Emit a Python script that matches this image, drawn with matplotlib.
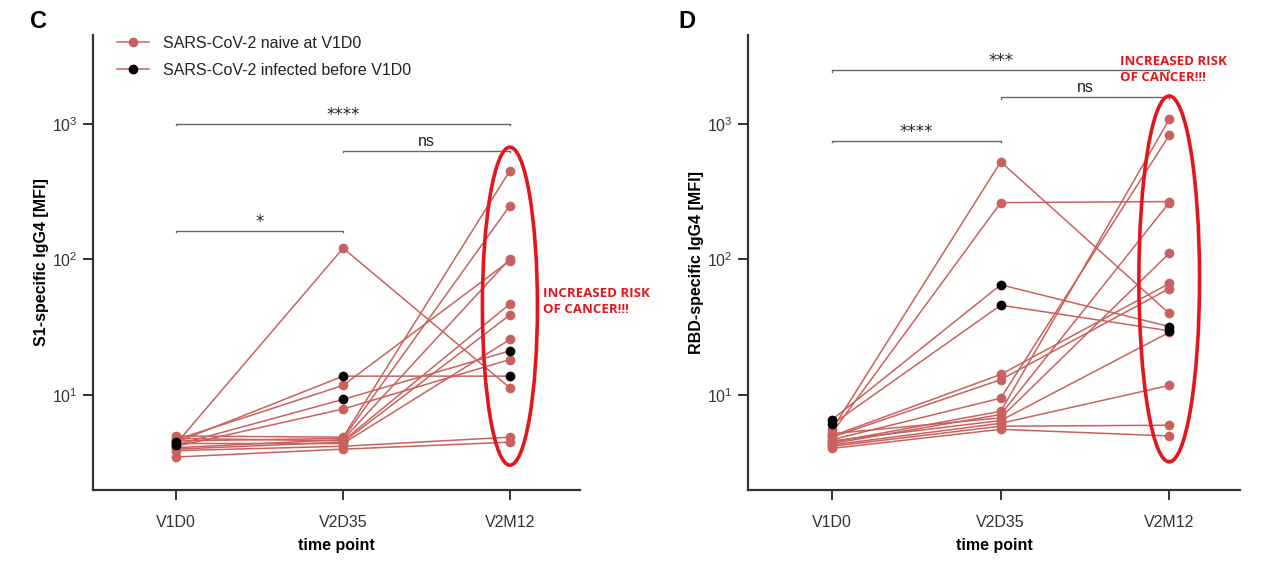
import matplotlib.pyplot as plt
import matplotlib.transforms as mtransforms
from matplotlib.patches import Ellipse
from matplotlib.lines import Line2D
from matplotlib.ticker import LogLocator, NullLocator

plt.rcParams['font.family'] = ['Liberation Sans', 'DejaVu Sans']

time_points = ["V1D0", "V2D35", "V2M12"]

# S1-specific IgG4 [MFI], one row per participant (V1D0, V2D35, V2M12)
s1_naive = [
    [4.4, 121, 11.3],
    [4.7, 11.8, 98],
    [4.2, 7.9, 18.3],
    [5.0, 4.9, 451],
    [4.6, 4.8, 249],
    [4.1, 4.7, 101],
    [4.8, 4.6, 47],
    [4.0, 4.5, 39],
    [4.4, 4.4, 25.7],
    [3.9, 4.2, 4.9],
    [3.5, 4.0, 4.5],
]
s1_infected = [
    [4.5, 13.8, 13.8],
    [4.3, 9.3, 21.2],
]

# RBD-specific IgG4 [MFI]
rbd_naive = [
    [5.6, 524, 40],
    [5.3, 262, 267],
    [5.0, 14.2, 66.5],
    [4.9, 13.0, 61],
    [4.7, 9.5, 822],
    [4.5, 7.6, 1075],
    [4.4, 7.2, 262],
    [5.2, 6.8, 111],
    [4.6, 6.5, 29],
    [4.3, 6.2, 11.8],
    [4.2, 5.9, 6.0],
    [4.05, 5.6, 5.0],
]
rbd_infected = [
    [6.6, 65, 32],
    [6.1, 46, 29.8],
]

# significance brackets: (start index, end index, height, label)
s1_brackets = [(0, 2, 1000, "****"), (1, 2, 630, "ns"), (0, 1, 163, "*")]
rbd_brackets = [(0, 2, 2470, "***"), (1, 2, 1570, "ns"), (0, 1, 747, "****")]

pink = "#c9625e"
red = "#e3161d"

fig = plt.figure(figsize=(12.63, 5.63), dpi=100)
ax1 = fig.add_axes([0.0736, 0.1297, 0.3856, 0.808])
ax2 = fig.add_axes([0.5922, 0.1297, 0.3896, 0.808])


def draw_panel(ax, naive, infected, brackets, ylabel):
    x = range(len(time_points))
    for row in naive:
        ax.plot(x, row, color=pink, lw=1.1, marker="o", ms=6, mfc=pink, mec=pink, zorder=2)
    for row in infected:
        ax.plot(x, row, color=pink, lw=1.1, zorder=2)
    for row in infected:
        ax.plot(x, row, ls="none", marker="o", ms=6, mfc="black", mec="black", zorder=3)

    ax.set_yscale("log")
    ax.set_ylim(2, 4500)
    ax.set_xlim(-0.5, 2.42)
    ax.yaxis.set_major_locator(LogLocator(base=10, subs=(1.0,)))
    ax.yaxis.set_minor_locator(NullLocator())
    ax.set_xticks(list(x))
    ax.set_xticklabels(time_points)
    for s in ["top", "right"]:
        ax.spines[s].set_visible(False)
    for s in ["left", "bottom"]:
        ax.spines[s].set_color("#333333")
        ax.spines[s].set_linewidth(1.6)
    ax.tick_params(axis="both", direction="out", length=7, width=1.4, color="#333333",
                   labelsize=11.5, labelcolor="#333333", pad=4)
    ax.tick_params(axis="x", pad=11)
    ax.set_xlabel("time point", fontsize=11.5, fontweight="bold", labelpad=6)
    ax.set_ylabel(ylabel, fontsize=11.5, fontweight="bold", labelpad=2)

    for i0, i1, h, lab in brackets:
        ax.plot([i0, i0, i1, i1], [h * 0.975, h, h, h * 0.975], color="#666666", lw=1.0)
        if "*" in lab:
            ax.text((i0 + i1) / 2, h * 1.0, lab, ha="center", va="bottom", fontsize=12,
                    color="#222222", family=["DejaVu Sans"])
        else:
            ax.text((i0 + i1) / 2, h * 1.03, lab, ha="center", va="bottom", fontsize=11.5,
                    color="#222222")


draw_panel(ax1, s1_naive, s1_infected, s1_brackets, "S1-specific IgG4 [MFI]")
draw_panel(ax2, rbd_naive, rbd_infected, rbd_brackets, "RBD-specific IgG4 [MFI]")

# red ellipses around the V2M12 column
for ax, cy, h, w in [(ax1, 0.404, 0.699, 0.33), (ax2, 0.464, 0.804, 0.36)]:
    trans = mtransforms.blended_transform_factory(ax.transData, ax.transAxes)
    ax.add_patch(Ellipse((2, cy), w, h, transform=trans, fill=False, ec=red, lw=2.6,
                         zorder=4, clip_on=False))

ax1.text(2.2, 0.415, "INCREASED RISK\nOF CANCER!!!", transform=mtransforms.blended_transform_factory(
    ax1.transData, ax1.transAxes), color=red, fontsize=9.5, fontweight="bold",
    family=["Open Sans", "DejaVu Sans"], ha="left", va="center", linespacing=1.3)
ax2.text(1.71, 0.925, "INCREASED RISK\nOF CANCER!!!", transform=mtransforms.blended_transform_factory(
    ax2.transData, ax2.transAxes), color=red, fontsize=9.5, fontweight="bold",
    family=["Open Sans", "DejaVu Sans"], ha="left", va="center", linespacing=1.3)

handles = [
    Line2D([], [], color=pink, lw=1.1, marker="o", ms=6, mfc=pink, mec=pink),
    Line2D([], [], color=pink, lw=1.1, marker="o", ms=6, mfc="black", mec="black"),
]
ax1.legend(handles, ["SARS-CoV-2 naive at V1D0", "SARS-CoV-2 infected before V1D0"],
           loc="upper left", bbox_to_anchor=(0.02, 1.03), frameon=False, fontsize=11.5,
           handlelength=2.0, handletextpad=0.9, labelspacing=0.75, labelcolor="#222222")

fig.text(0.024, 0.962, "C", fontsize=17, fontweight="bold", va="center")
fig.text(0.537, 0.962, "D", fontsize=17, fontweight="bold", va="center")

fig.savefig("out.png", dpi=100)
